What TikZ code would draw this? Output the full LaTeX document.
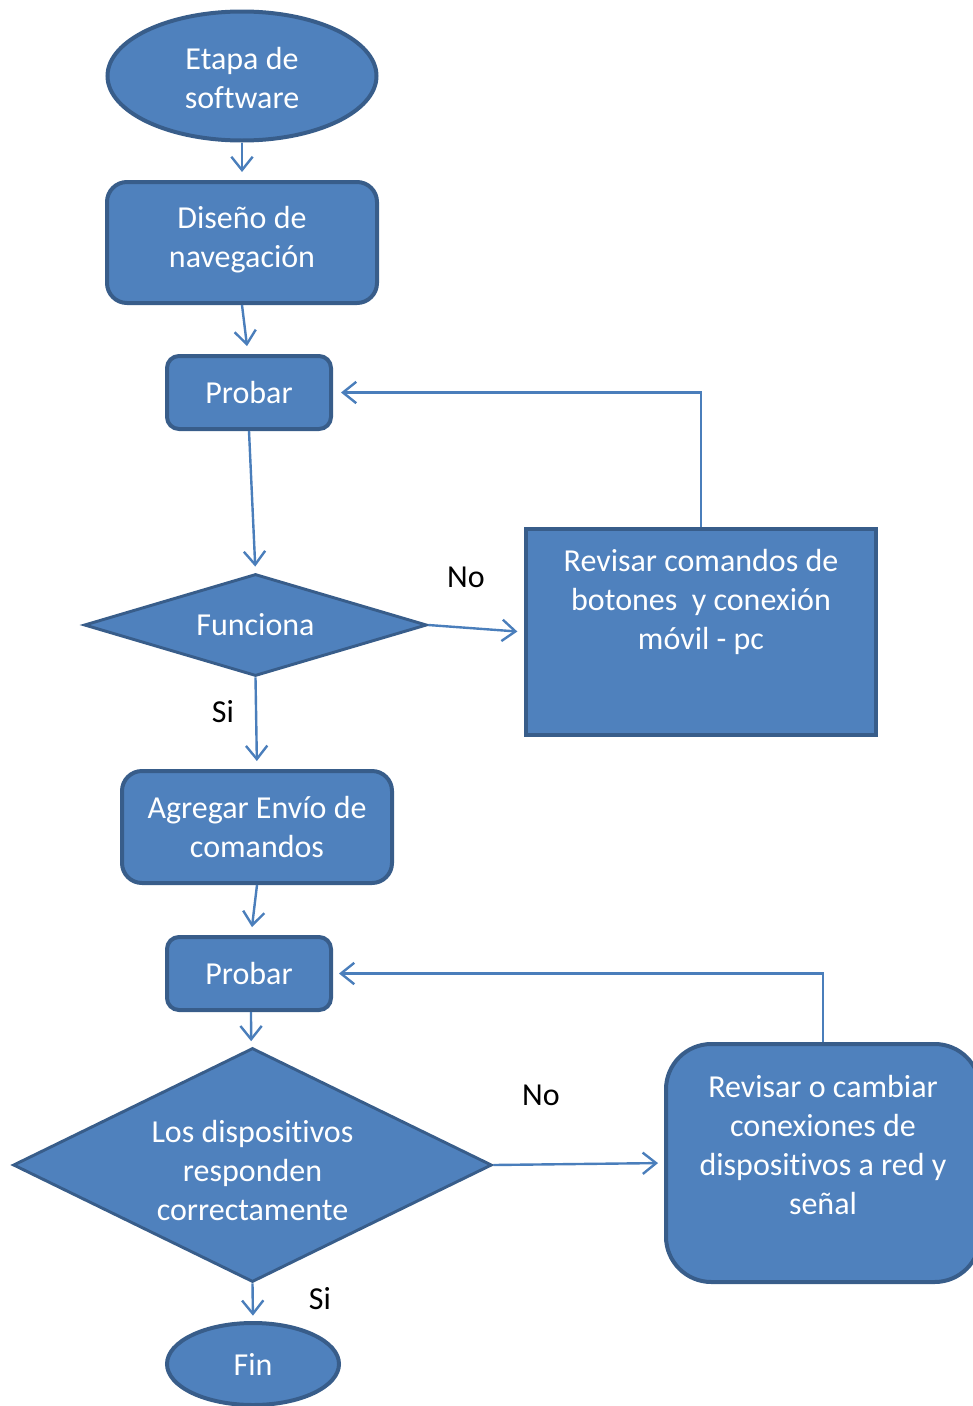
\documentclass[tikz,border=0pt]{standalone}
\usepackage{fontspec}
\setmainfont{Carlito}[Ligatures=NoCommon]
\usetikzlibrary{shapes.geometric,arrows.meta}
\definecolor{boxfill}{HTML}{4F81BD}
\definecolor{boxline}{HTML}{385D8A}
\definecolor{connline}{HTML}{4A7EBB}
\tikzset{
  base/.style={fill=boxfill,draw=boxline,line width=3pt,text=white,inner sep=0pt,align=center,
    font=\fontsize{24}{29.25}\selectfont},
  oval/.style={base,ellipse},
  rbox/.style={base,rectangle,rounded corners=15pt},
  sbox/.style={base,rectangle},
  dia/.style={base,diamond,line width=2.2pt},
  txt/.style={text=white,align=center,inner sep=0pt,font=\fontsize{24}{29.25}\selectfont},
  lbl/.style={text=black,inner sep=0pt,font=\fontsize{24}{29.25}\selectfont},
  conn/.style={draw=connline,line width=1.8pt,-{Straight Barb[length=10pt,width=16pt,line width=1.8pt]}}
}
\begin{document}
\begin{tikzpicture}[x=0.75pt,y=-0.75pt]
\useasboundingbox (0,0) rectangle (972,1406);
\node[oval,minimum width=201.75pt,minimum height=96.75pt] (e1) at (242,76) {};
\node[txt] (e1t) at (242,78.5) {Etapa de\\software};
\node[rbox,minimum width=202.5pt,minimum height=90.75pt] (r1) at (242,242.5) {};
\node[txt] (r1t) at (242,239.5) {Diseño de\\navegación};
\node[rbox,rounded corners=9pt,minimum width=123pt,minimum height=54.75pt] (p1) at (249,392.5) {Probar};
\node[dia,shape aspect=3.4,minimum width=257pt,minimum height=76.5pt] (d1) at (255.5,625) {Funciona};
\node[sbox,minimum width=262.5pt,minimum height=154.5pt] (rev1) at (701,632) {};
\node[txt] (rev1t) at (701,602) {Revisar comandos de\\botones\ \ y conexión\\móvil - pc};
\node[rbox,minimum width=202.5pt,minimum height=84pt] (r2) at (257,827) {Agregar Envío de\\comandos};
\node[rbox,rounded corners=9pt,minimum width=123pt,minimum height=54.75pt] (p2) at (249,973.5) {Probar};
\node[dia,shape aspect=2.05,minimum width=359pt,minimum height=175.5pt] (d2) at (252.5,1165) {};
\node[txt] (d2t) at (252.5,1170) {Los dispositivos\\responden\\correctamente};
\node[rbox,rounded corners=34pt,minimum width=235.5pt,minimum height=178.5pt] (rev2) at (823,1163) {};
\node[txt] (rev2t) at (823,1144.5) {Revisar o cambiar\\conexiones de\\dispositivos a red y\\señal};
\node[oval,minimum width=129pt,minimum height=61.5pt] (fin) at (253,1364) {Fin};
\node[lbl] (no1) at (466,577) {No};
\node[lbl] (si1) at (223,712) {Si};
\node[lbl] (no2) at (541,1095) {No};
\node[lbl] (si2) at (320,1299) {Si};
\draw[conn,shorten >=6pt] (e1.south) -- (r1.north);
\draw[conn,shorten >=6pt] (r1.south) -- ([xshift=-0.75pt]p1.north);
\draw[conn,shorten >=4.5pt] (p1.south) -- (d1.north);
\draw[conn,shorten >=5pt] (d1.east) -- (rev1.west);
\draw[conn,shorten >=6pt] (rev1.north) |- (p1.east);
\draw[conn,shorten >=6pt] (d1.south) -- (r2.north);
\draw[conn,shorten >=6pt] (r2.south) -- ([xshift=1.5pt]p2.north);
\draw[conn,shorten >=4pt] ([xshift=1.5pt]p2.south) -- ([xshift=-1pt]d2.north);
\draw[conn,shorten >=4.5pt] (rev2.north) |- (p2.east);
\draw[conn,shorten >=4.5pt] (d2.east) -- (rev2.west);
\draw[conn,shorten >=4pt] (d2.south) -- (fin.north);
\end{tikzpicture}
\end{document}
